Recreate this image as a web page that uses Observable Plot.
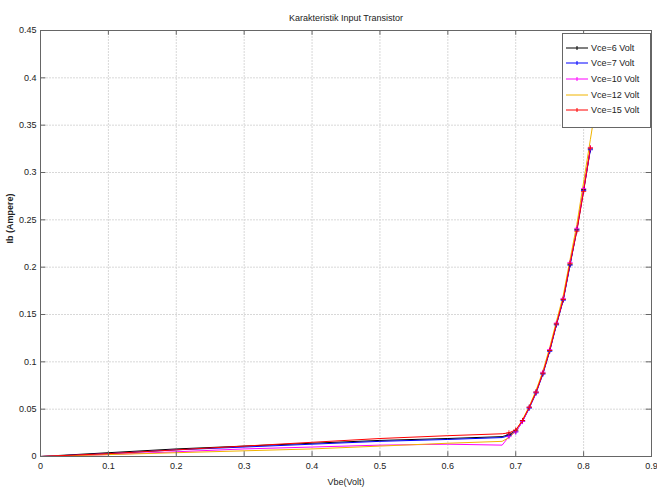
<!DOCTYPE html>
<html><head><meta charset="utf-8">
<script src="https://cdn.jsdelivr.net/npm/d3@7"></script>
<script src="https://cdn.jsdelivr.net/npm/@observablehq/plot@0.6"></script>
<style>
body{margin:0;background:#fff;font-family:"Liberation Sans",Arial,sans-serif;}
#wrap{position:relative;width:657px;height:491px;}
#legend{position:absolute;left:562px;top:33px;width:89px;height:95px;background:#fff;border:1px solid #666;box-sizing:border-box;font-size:9px;color:#222;}
#legend div{display:flex;align-items:center;height:15.6px;margin-left:3px;}
#legend div:first-child{margin-top:6px;}
#legend svg{margin-right:3px;}
</style></head>
<body><div id="wrap"><div id="chart"></div><div id="legend"></div></div>
<script>
const title = "Karakteristik Input Transistor";
const xLabel = "Vbe(Volt)";
const yLabel = "Ib (Ampere)";
const seriesNames = ["Vce=6 Volt","Vce=7 Volt","Vce=10 Volt","Vce=12 Volt","Vce=15 Volt"];
const seriesColors = ["#000000","#0000ff","#ff00ff","#f0b400","#ff0000"];
const vbe = [0, 0.1, 0.2, 0.3, 0.4, 0.5, 0.6, 0.68, 0.69, 0.7, 0.71, 0.72, 0.73, 0.74, 0.75, 0.76, 0.77, 0.78, 0.79, 0.8, 0.81];
const ibVce6  = [0, 0.004, 0.008, 0.011, 0.014, 0.017, 0.019, 0.021, 0.023, 0.027, 0.038, 0.052, 0.068, 0.088, 0.112, 0.140, 0.166, 0.203, 0.240, 0.282, 0.325];
const ibVce7  = [0, 0.003, 0.007, 0.010, 0.013, 0.016, 0.018, 0.020, 0.022, 0.026, 0.037, 0.051, 0.067, 0.087, 0.111, 0.139, 0.165, 0.202, 0.239, 0.281, 0.324];
const ibVce10 = [0, 0.002, 0.005, 0.008, 0.010, 0.012, 0.013, 0.012, 0.021, 0.026, 0.037, 0.052, 0.068, 0.089, 0.113, 0.141, 0.167, 0.205, 0.241, 0.283, 0.326];
const ibVce12 = [0, 0.002, 0.004, 0.006, 0.008, 0.011, 0.014, 0.016, 0.020, 0.027, 0.039, 0.053, 0.070, 0.090, 0.115, 0.143, 0.170, 0.208, 0.245, 0.290, 0.335];
const ibVce15 = [0, 0.003, 0.007, 0.011, 0.015, 0.019, 0.022, 0.024, 0.025, 0.028, 0.038, 0.052, 0.068, 0.088, 0.112, 0.140, 0.166, 0.204, 0.238, 0.280, 0.326];
const ibTopVbe = [0.81, 0.82, 0.83];
const ibTopVce12 = [0.335, 0.38, 0.43];
const xTicks = [0,0.1,0.2,0.3,0.4,0.5,0.6,0.7,0.8,0.9];
const yTicks = [0,0.05,0.1,0.15,0.2,0.25,0.3,0.35,0.4,0.45];

const allIb = [ibVce6, ibVce7, ibVce10, ibVce12, ibVce15];
const data = [];
allIb.forEach((arr, s) => arr.forEach((v, i) => data.push({series: seriesNames[s], x: vbe[i], y: v})));
const topData = ibTopVbe.map((x, i) => ({series: seriesNames[3], x, y: ibTopVce12[i]}));
const lineData = data.concat(topData.slice(1));

const fmt = d => d === 0 ? "0" : String(d);
const chart = Plot.plot({
  width: 657, height: 491,
  marginTop: 30, marginBottom: 35, marginLeft: 40, marginRight: 6,
  style: {fontFamily: "'Liberation Sans', Arial, sans-serif", fontSize: "9px", color: "#222"},
  x: {domain: [0, 0.9], ticks: xTicks, tickFormat: fmt, label: null},
  y: {domain: [0, 0.45], ticks: yTicks, tickFormat: fmt, label: null},
  color: {domain: seriesNames, range: seriesColors},
  marks: [
    Plot.gridX(xTicks, {stroke: "#d8d8d8", strokeOpacity: 1, strokeDasharray: "2,1"}),
    Plot.gridY(yTicks, {stroke: "#d8d8d8", strokeOpacity: 1, strokeDasharray: "2,1"}),
    Plot.line(lineData, {x: "x", y: "y", z: "series", stroke: "series", strokeWidth: 1}),
    Plot.dot(data.filter(d => d.x >= 0.69 && d.series !== seriesNames[3]), {x: "x", y: "y", stroke: "series", symbol: "plus", r: 1.8, strokeWidth: 0.8}),
    Plot.ruleX(xTicks, {x: d => d, y1: 0, y2: 0.005, stroke: "#666"}),
    Plot.ruleX(xTicks, {x: d => d, y1: 0.445, y2: 0.45, stroke: "#666"}),
    Plot.ruleY(yTicks, {y: d => d, x1: 0, x2: 0.008, stroke: "#666"}),
    Plot.ruleY(yTicks, {y: d => d, x1: 0.892, x2: 0.9, stroke: "#666"}),
    Plot.frame({stroke: "#666"}),
    Plot.axisX(xTicks, {tickSize: 0, tickPadding: 6, tickFormat: fmt}),
    Plot.axisY(yTicks, {tickSize: 0, tickPadding: 4, tickFormat: fmt}),
    Plot.text([xLabel], {frameAnchor: "bottom", dy: 28, fontSize: 9}),
    Plot.text([yLabel], {frameAnchor: "left", dx: -30, rotate: -90, fontSize: 9, fontWeight: "bold"}),
    Plot.text([title], {frameAnchor: "top", dy: -16, fontSize: 9})
  ]
});
document.getElementById("chart").appendChild(chart);

const leg = document.getElementById("legend");
seriesNames.forEach((n, i) => {
  const row = document.createElement("div");
  row.innerHTML = `<svg width="22" height="8"><line x1="0" y1="4" x2="22" y2="4" stroke="${seriesColors[i]}" stroke-width="1"/>${i===3?"":`<line x1="11" y1="2" x2="11" y2="6" stroke="${seriesColors[i]}"/>`}</svg><span>${n}</span>`;
  leg.appendChild(row);
});
</script></body></html>
